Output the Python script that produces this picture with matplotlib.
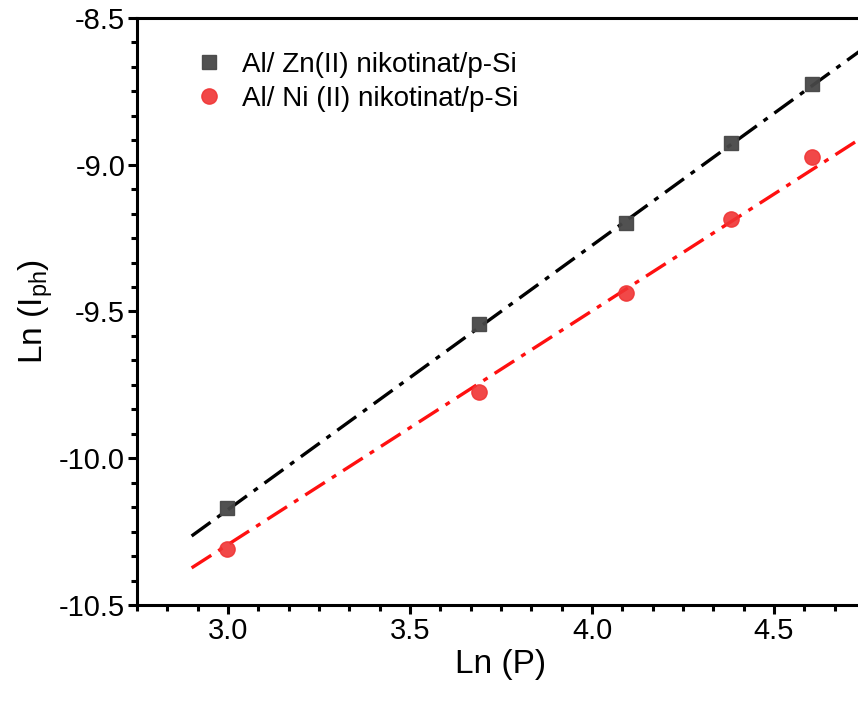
import numpy as np
import matplotlib
matplotlib.use('Agg')
import matplotlib.pyplot as plt
from matplotlib.ticker import MultipleLocator, AutoMinorLocator

plt.rcParams['font.family'] = ['Liberation Sans', 'DejaVu Sans']
plt.rcParams['mathtext.default'] = 'regular'

# Ln(P) ve Ln(Iph) degerleri
ln_p = [2.996, 3.689, 4.094, 4.382, 4.605]
zn_vals = [-10.17, -9.544, -9.197, -8.925, -8.726]
ni_vals = [-10.31, -9.773, -9.436, -9.186, -8.973]
zn_label = 'Al/ Zn(II) nikotinat/p-Si'
ni_label = 'Al/ Ni (II) nikotinat/p-Si'
# grafikten okunan lineer fit (egim, kesim)
zn_fit = [0.90, -12.875]
ni_fit = [0.796, -12.682]
fit_range = [2.9, 4.75]

fig = plt.figure(figsize=(8.58, 7.07), dpi=100)
ax = fig.add_axes([0.1597, 0.1443, 0.8485, 0.8303])

xfit = np.array(fit_range)
ax.plot(xfit, np.polyval(zn_fit, xfit), color='k', lw=2.4,
        dashes=(7, 2.5, 1.5, 2.5), zorder=2)
ax.plot(xfit, np.polyval(ni_fit, xfit), color='#ff1010', lw=2.4,
        dashes=(7, 2.5, 1.5, 2.5), zorder=2)

ax.plot(ln_p, zn_vals, 's', color='#474747', ms=9.5, alpha=0.95,
        label=zn_label, zorder=3)
ax.plot(ln_p, ni_vals, 'o', color='#f03434', ms=11, alpha=0.9,
        label=ni_label, zorder=3)

ax.set_xlim(2.75, 4.75)
ax.set_ylim(-10.5, -8.5)
ax.xaxis.set_major_locator(MultipleLocator(0.5))
ax.xaxis.set_minor_locator(AutoMinorLocator(6))
ax.yaxis.set_major_locator(MultipleLocator(0.5))
ax.yaxis.set_minor_locator(AutoMinorLocator(6))
ax.xaxis.set_major_formatter(plt.FormatStrFormatter('%.1f'))
ax.yaxis.set_major_formatter(plt.FormatStrFormatter('%.1f'))

for s in ax.spines.values():
    s.set_linewidth(2.2)
ax.spines['right'].set_visible(False)
ax.tick_params(which='major', direction='out', length=6.5, width=2.2,
               labelsize=21, pad=2)
ax.tick_params(which='minor', direction='out', length=4, width=2.2)

ax.set_xlabel('Ln (P)', fontsize=24, labelpad=3)
ax.set_ylabel('Ln (I$_{ph}$)', fontsize=24, labelpad=3)

ax.legend(loc='upper left', bbox_to_anchor=(0.045, 0.985), frameon=False,
          fontsize=20, handletextpad=0.7, labelspacing=0.3,
          handlelength=1.0)

fig.savefig('out.png', dpi=100)
